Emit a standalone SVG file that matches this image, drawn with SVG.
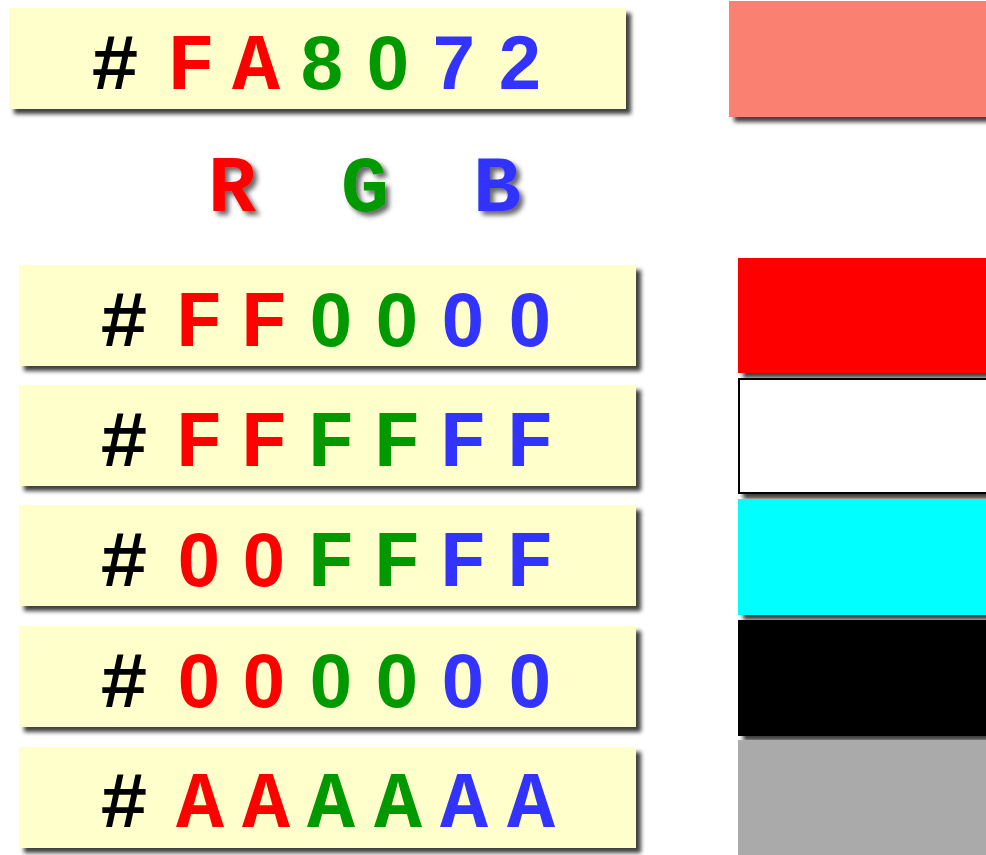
<svg xmlns="http://www.w3.org/2000/svg" width="986" height="855" viewBox="0 0 986 855">
<defs>
<filter id="sh" x="-5%" y="-10%" width="115%" height="130%">
<feDropShadow dx="5" dy="5" stdDeviation="2" flood-color="#000" flood-opacity="0.75"/>
</filter>
<filter id="tsh" x="-20%" y="-20%" width="150%" height="150%">
<feDropShadow dx="4" dy="4" stdDeviation="2.5" flood-color="#000" flood-opacity="0.6"/>
</filter>
<style>
.box{fill:#FFFFCC;filter:url(#sh)}
.sw{filter:url(#sh)}
text{font-family:"Liberation Mono","Courier New",monospace;font-weight:bold;font-size:80px;text-anchor:middle}
.d{font-family:"Liberation Sans",Arial,sans-serif;font-size:76px}
.k{fill:#000}.r{fill:#FF0000}.g{fill:#009900}.b{fill:#3333FF}
.lbl{filter:url(#tsh)}
</style>
</defs>
<rect width="986" height="855" fill="#fff"/>

<g id="code-fa8072">
<rect class="box" x="9" y="8" width="617" height="101"/>
<text y="89"><tspan class="k" x="115">#</tspan><tspan class="r" x="191">F</tspan><tspan class="r" x="256">A</tspan><tspan class="g d" x="322">8</tspan><tspan class="g d" x="388">0</tspan><tspan class="b d" x="454">7</tspan><tspan class="b d" x="520">2</tspan></text>
</g>
<g id="swatch-fa8072"><rect class="sw" x="729" y="1" width="262" height="116" fill="#FA8072"/></g>

<g id="rgb-labels" class="lbl">
<text class="r" x="232" y="211">R</text>
<text class="g" x="365" y="211">G</text>
<text class="b" x="497" y="211">B</text>
</g>

<g id="code-ff0000">
<rect class="box" x="19" y="265" width="617" height="101"/>
<text y="346"><tspan class="k" x="124">#</tspan><tspan class="r" x="199">F</tspan><tspan class="r" x="264">F</tspan><tspan class="g d" x="331">0</tspan><tspan class="g d" x="397">0</tspan><tspan class="b d" x="463">0</tspan><tspan class="b d" x="530">0</tspan></text>
</g>
<g id="swatch-ff0000"><rect class="sw" x="738" y="258" width="253" height="115" fill="#FF0000"/></g>

<g id="code-ffffff">
<rect class="box" x="19" y="385" width="617" height="101"/>
<text y="466"><tspan class="k" x="124">#</tspan><tspan class="r" x="199">F</tspan><tspan class="r" x="264">F</tspan><tspan class="g" x="331">F</tspan><tspan class="g" x="397">F</tspan><tspan class="b" x="463">F</tspan><tspan class="b" x="530">F</tspan></text>
</g>
<g id="swatch-ffffff"><rect class="sw" x="739" y="379" width="252" height="114" fill="#FFFFFF" stroke="#000" stroke-width="2"/></g>

<g id="code-00ffff">
<rect class="box" x="19" y="505" width="617" height="101"/>
<text y="586"><tspan class="k" x="124">#</tspan><tspan class="r d" x="199">0</tspan><tspan class="r d" x="264">0</tspan><tspan class="g" x="331">F</tspan><tspan class="g" x="397">F</tspan><tspan class="b" x="463">F</tspan><tspan class="b" x="530">F</tspan></text>
</g>
<g id="swatch-00ffff"><rect class="sw" x="738" y="499" width="253" height="116" fill="#00FFFF"/></g>

<g id="code-000000">
<rect class="box" x="19" y="626" width="617" height="101"/>
<text y="707"><tspan class="k" x="124">#</tspan><tspan class="r d" x="199">0</tspan><tspan class="r d" x="264">0</tspan><tspan class="g d" x="331">0</tspan><tspan class="g d" x="397">0</tspan><tspan class="b d" x="463">0</tspan><tspan class="b d" x="530">0</tspan></text>
</g>
<g id="swatch-000000"><rect class="sw" x="738" y="620" width="253" height="116" fill="#000000"/></g>

<g id="code-aaaaaa">
<rect class="box" x="19" y="747" width="617" height="101"/>
<text y="827"><tspan class="k" x="124">#</tspan><tspan class="r" x="200">A</tspan><tspan class="r" x="266">A</tspan><tspan class="g" x="331">A</tspan><tspan class="g" x="398">A</tspan><tspan class="b" x="464">A</tspan><tspan class="b" x="531">A</tspan></text>
</g>
<g id="swatch-aaaaaa"><rect class="sw" x="738" y="740" width="253" height="120" fill="#AAAAAA"/></g>
</svg>
